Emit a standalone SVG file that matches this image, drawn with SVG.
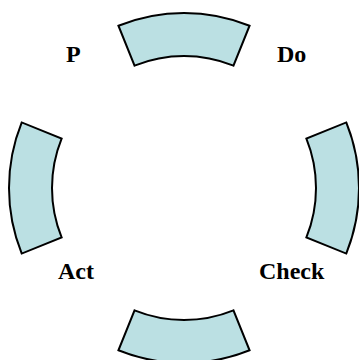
<svg xmlns="http://www.w3.org/2000/svg" width="359" height="360" viewBox="0 0 359 360">
<style>
.seg{fill:#BBE0E3;stroke:#000;stroke-width:2;stroke-linejoin:miter}
.lbl{font-family:"Liberation Serif","Times New Roman",serif;font-weight:bold;font-size:24px;fill:#000}
</style>
<rect width="359" height="360" fill="#fff"/>
<g id="seg-top"><path class="seg" d="M118.44,25.74 A175,175 0 0 1 249.56,25.74 L233.45,65.61 A132,132 0 0 0 134.55,65.61 Z"/></g>
<g id="seg-right"><path class="seg" d="M346.26,122.44 A175,175 0 0 1 346.26,253.56 L306.39,237.45 A132,132 0 0 0 306.39,138.55 Z"/></g>
<g id="seg-bottom"><path class="seg" d="M249.56,350.26 A175,175 0 0 1 118.44,350.26 L134.55,310.39 A132,132 0 0 0 233.45,310.39 Z"/></g>
<g id="seg-left"><path class="seg" d="M21.74,253.56 A175,175 0 0 1 21.74,122.44 L61.61,138.55 A132,132 0 0 0 61.61,237.45 Z"/></g>
<g id="connectors"></g>
<g id="label-p"><text class="lbl" x="66" y="62">P</text></g>
<g id="label-do"><text class="lbl" x="277" y="62">Do</text></g>
<g id="label-act"><text class="lbl" x="58" y="279">Act</text></g>
<g id="label-check"><text class="lbl" x="259" y="279">Check</text></g>
</svg>
